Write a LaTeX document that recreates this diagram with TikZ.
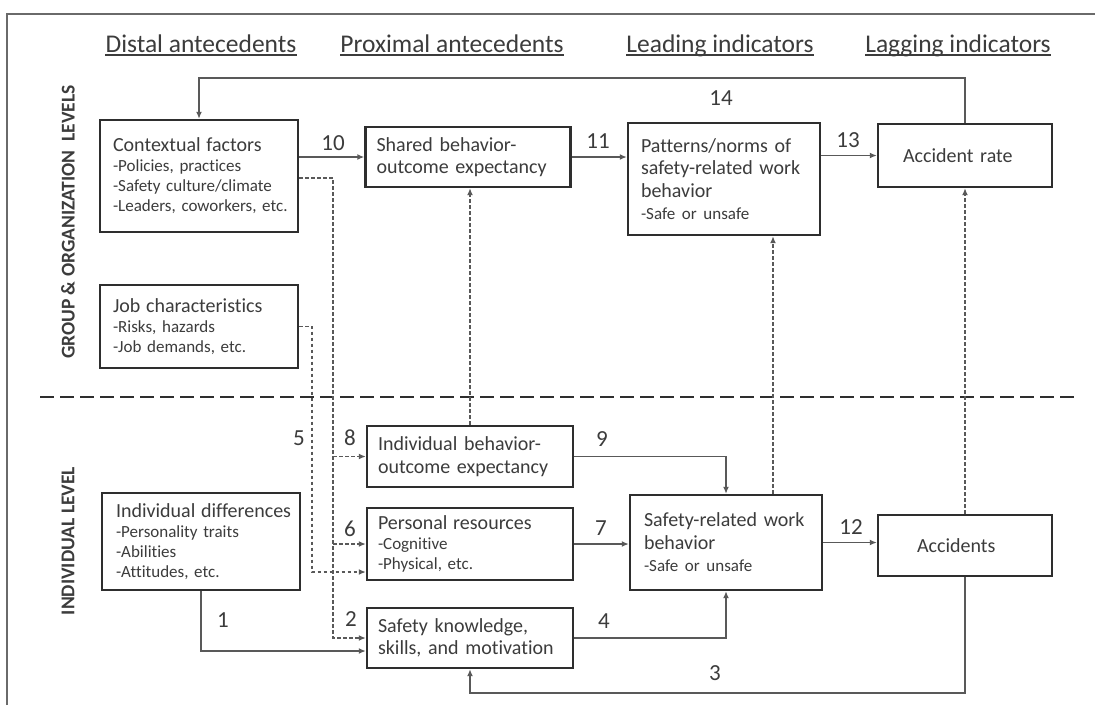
\documentclass[tikz,border=0pt]{standalone}
\usepackage{fontspec}
\setmainfont{Carlito}[Ligatures={NoCommon}]
\usetikzlibrary{arrows.meta}
\definecolor{txt}{HTML}{3C3C3C}
\definecolor{bord}{HTML}{2E2E2E}
\definecolor{connc}{HTML}{595959}
\definecolor{framec}{HTML}{6A6A6A}
\newcommand{\ttlf}{\fontsize{20}{22.5}\selectfont}
\newcommand{\subtxtf}{\fontsize{17}{20}\selectfont}
\newcommand{\numf}{\fontsize{23}{26}\selectfont}
\newcommand{\headf}{\fontsize{25.5}{29}\selectfont}
\newcommand{\lvlf}{\fontsize{19.5}{22}\selectfont\bfseries}
\hyphenpenalty=10000
\exhyphenpenalty=10000
\hbadness=10000
\hfuzz=100pt
\begin{document}
\begin{tikzpicture}[x=1pt,y=-1pt,
 box/.style={draw=bord, line width=2.4pt, text=txt, align=left, inner ysep=0pt},
 conn/.style={draw=connc, line width=1.5pt, -{Latex[length=7pt,width=6pt]}},
 dconn/.style={conn, dash pattern=on 3.5pt off 2.5pt},
 num/.style={text=txt, font=\numf, inner sep=0pt},
 head/.style={text=txt, font=\headf, inner sep=0pt, anchor=base},
 uline/.style={draw=txt, line width=1.3pt},
 lvl/.style={text=txt, font=\lvlf, rotate=90, inner sep=0pt}]
\useasboundingbox (0,0) rectangle (1095,705);
\fill[white] (0,0) rectangle (1095,705);
% frame and separator
\draw[draw=framec, line width=2pt] (7,705) -- (7,14) -- (1095,14);
\draw[draw=bord, line width=2pt, dash pattern=on 14pt off 6pt] (40,397) -- (1075,397);
% headers
\node[head] (h1) at (201,52) {Distal antecedents};
\node[head] (h2) at (452,52) {Proximal antecedents};
\node[head] (h3) at (720,52) {Leading indicators};
\node[head] (h4) at (958,52) {Lagging indicators};
\foreach \h in {h1,h2,h3,h4}{\draw[uline] ([yshift=-3pt]\h.base west) -- ([yshift=-3pt]\h.base east);}
% level labels
\node[lvl] (lg) at (68,222) {GROUP \& ORGANIZATION\ \ LEVELS};
\node[lvl] (li) at (68,541) {INDIVIDUAL LEVEL};
% boxes
\node[box, text width=172pt, inner xsep=13pt, minimum height=112pt, font=\subtxtf] (ctx) at (199,176)
  {{\ttlf Contextual~factors}\\-Policies,~practices\\-Safety~culture/climate\\-Leaders,~coworkers,~etc.};
\node[box, text width=183pt, inner xsep=11pt, minimum height=60pt, font=\ttlf] (shared) at (468,157)
  {Shared~behavior-\\outcome~expectancy};
\node[box, text width=166pt, inner xsep=13pt, minimum height=112pt, font=\ttlf] (patt) at (724,179)
  {Patterns/norms~of\\safety-related~work\\behavior\\{\subtxtf -Safe~or~unsafe}};
\node[box, text width=124pt, inner xsep=25pt, minimum height=63pt, font=\ttlf] (arate) at (965,155.5)
  {Accident~rate};
\node[box, text width=172pt, inner xsep=13pt, minimum height=83pt, font=\subtxtf] (job) at (199,326.5)
  {{\ttlf Job~characteristics}\\-Risks,~hazards\\-Job~demands,~etc.};
\node[box, text width=184pt, inner xsep=11pt, minimum height=61pt, font=\ttlf] (ibeh) at (470,456.5)
  {Individual~behavior-\\outcome~expectancy};
\node[box, text width=184pt, inner xsep=11pt, minimum height=72pt, font=\subtxtf] (pres) at (470,544)
  {{\ttlf Personal~resources}\\-Cognitive\\-Physical,~etc.};
\node[box, text width=164pt, inner xsep=14pt, minimum height=95pt, font=\ttlf] (swb) at (726,542.5)
  {Safety-related~work\\behavior\\{\subtxtf -Safe~or~unsafe}};
\node[box, text width=96pt, inner xsep=39pt, minimum height=61pt, font=\ttlf] (acc) at (965,545.5)
  {Accidents};
\node[box, text width=170pt, inner xsep=14pt, minimum height=97pt, font=\subtxtf] (idiff) at (201,541.5)
  {{\ttlf Individual~differences}\\-Personality~traits\\-Abilities\\-Attitudes,~etc.};
\node[box, text width=184pt, inner xsep=11pt, minimum height=60pt, font=\ttlf] (sk) at (470,638)
  {Safety~knowledge,\\skills,~and~motivation};
% helper coordinates
\coordinate (t14) at (0,78);
\coordinate (vc) at (333,0);
\coordinate (vj) at (312,0);
\coordinate (b3) at (0,693);
\coordinate (p5) at ([yshift=-28pt]pres.west);
\coordinate (p1) at ([yshift=-13pt]sk.west);
\coordinate (p15) at ([xshift=47pt]swb.north);
\coordinate (pc) at ([yshift=-2pt]ctx.east);
% solid connectors
\draw[conn] (arate.north) -- (arate.north |- t14) -- (ctx.north |- t14) -- (ctx.north);
\draw[conn] (ctx.east |- shared.west) -- (shared.west);
\draw[conn] (shared.east) -- (shared.east -| patt.west);
\draw[conn] (patt.east |- arate.west) -- (arate.west);
\draw[conn] (idiff.south) |- (p1);
\draw[conn] (sk.east) -| (swb.south);
\draw[conn] (ibeh.east) -| (swb.north);
\draw[conn] (pres.east) -- (pres.east -| swb.west);
\draw[conn] (swb.east) -- (swb.east -| acc.west);
\draw[conn] (acc.south) |- (b3 -| sk.south) -- (sk.south);
% dashed connectors
\draw[dconn] (pc) -| (vc |- sk.west) -- (sk.west);
\draw[dconn] (vc |- ibeh.west) -- (ibeh.west);
\draw[dconn] (vc |- pres.west) -- (pres.west);
\draw[dconn] (job.east) -| (p5 -| vj) -- (p5);
\draw[dconn] (ibeh.north) -- (ibeh.north |- shared.south);
\draw[dconn] (p15) -- (p15 |- patt.south);
\draw[dconn] (acc.north) -- (arate.south);
% numbers
\node[num] (n14) at (721,98) {14};
\node[num] (n10) at (333,143) {10};
\node[num] (n11) at (598,141) {11};
\node[num] (n13) at (848,140) {13};
\node[num] (n5) at (299,438) {5};
\node[num] (n8) at (350,438) {8};
\node[num] (n9) at (602,439) {9};
\node[num] (n6) at (350,529) {6};
\node[num] (n7) at (601,528) {7};
\node[num] (n12) at (851,527) {12};
\node[num] (n1) at (223,620) {1};
\node[num] (n2) at (351,619) {2};
\node[num] (n4) at (604,621) {4};
\node[num] (n3) at (715,673) {3};
\end{tikzpicture}
\end{document}
